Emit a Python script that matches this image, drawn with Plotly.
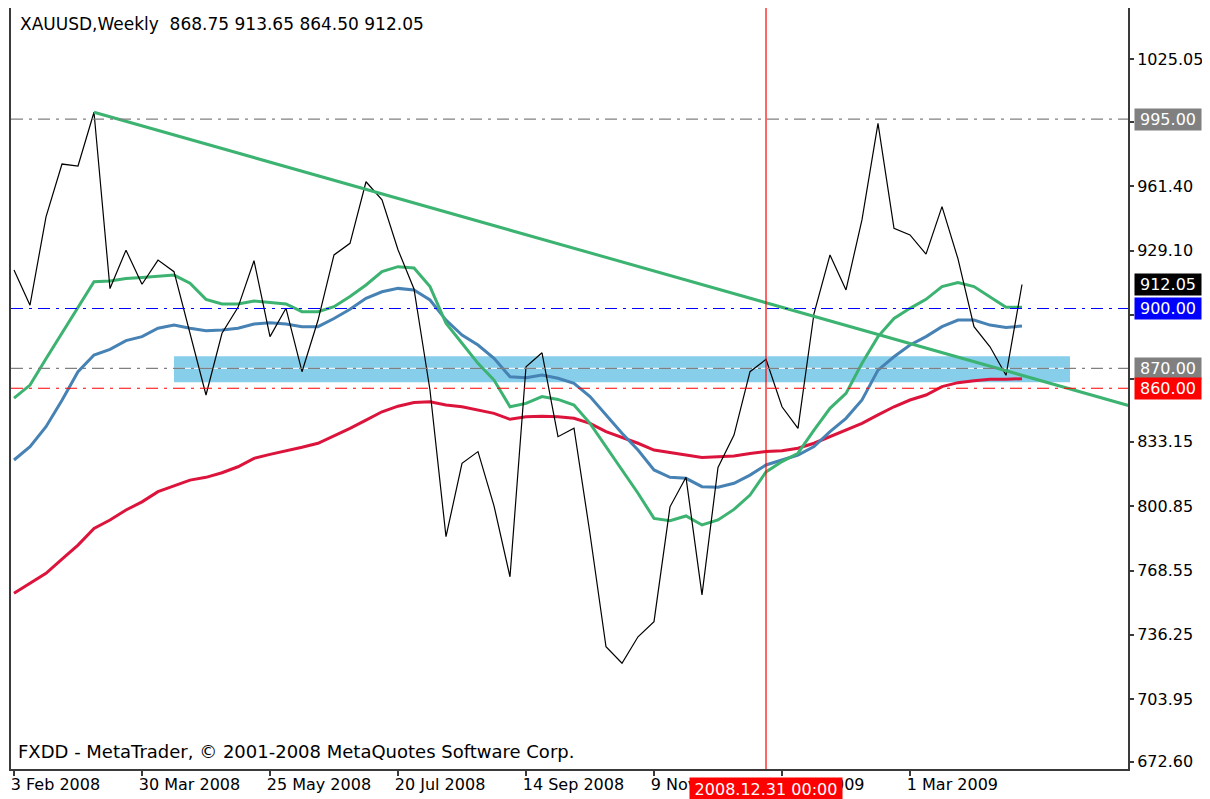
import pandas as pd
import plotly.graph_objects as go

# ---------------- data ----------------
start_week = "2008-02-03"          # first weekly bar shown

close = [919.3, 901.7, 946.0, 972.5, 971.5, 998.5, 910.0, 929.3, 912.2, 924.3,
         918.5, 887.6, 856.6, 887.6, 900.6, 924.0, 885.9, 900.1, 868.3, 894.1,
         926.9, 932.7, 963.6, 954.5, 929.5, 909.8, 859.0, 785.5, 822.3, 828.2,
         801.0, 765.4, 870.8, 877.8, 835.7, 840.0, 787.0, 730.3, 722.0, 735.3,
         742.9, 800.5, 815.3, 756.3, 820.3, 836.5, 868.3, 874.5, 850.7, 839.9,
         897.5, 926.9, 909.3, 944.6, 992.9, 940.2, 936.9, 927.3, 951.1, 924.9,
         890.9, 880.8, 866.5, 912.05]

ma_green = [855.0, 861.6, 874.8, 887.9, 900.9, 913.4, 913.8, 915.1, 915.6, 916.3,
            916.8, 912.7, 904.6, 902.3, 902.3, 903.8, 903.0, 902.3, 898.4, 898.4,
            900.9, 906.0, 911.8, 918.5, 921.0, 920.3, 911.0, 892.6, 882.6, 872.5,
            864.1, 850.7, 852.4, 855.8, 854.4, 851.6, 842.4, 830.7, 819.0, 807.3,
            794.7, 793.5, 795.9, 791.4, 793.9, 799.2, 806.4, 818.0, 823.2, 827.4,
            839.0, 849.9, 857.4, 872.5, 885.9, 895.0, 900.1, 904.6, 911.0, 913.0,
            911.0, 906.0, 900.6, 900.6]

ma_blue = [824.0, 830.7, 840.7, 854.0, 868.3, 876.7, 879.5, 883.9, 885.9, 890.1,
           891.7, 890.1, 888.9, 889.2, 890.1, 892.2, 892.9, 892.2, 890.9, 890.9,
           895.0, 899.6, 905.1, 908.4, 910.1, 909.3, 904.3, 894.2, 886.7, 881.7,
           875.0, 865.8, 865.3, 866.6, 865.0, 862.5, 855.8, 846.6, 837.4, 829.0,
           819.0, 815.3, 814.8, 810.6, 810.3, 812.3, 816.4, 821.5, 824.0, 826.5,
           830.7, 838.2, 844.9, 854.1, 869.1, 875.8, 881.7, 885.9, 890.9, 894.2,
           894.2, 891.7, 890.5, 891.2]

ma_red = [757.1, 762.1, 767.1, 774.2, 781.3, 789.7, 793.9, 798.9, 803.0, 808.1,
          810.9, 813.9, 815.3, 817.6, 820.6, 824.8, 826.8, 828.5, 830.4, 832.4,
          836.0, 839.9, 844.0, 848.2, 851.0, 852.8, 853.2, 851.6, 850.7, 849.0,
          847.4, 844.4, 845.7, 846.0, 845.7, 844.9, 842.4, 838.2, 835.4, 832.4,
          829.0, 827.6, 826.5, 825.3, 825.6, 826.0, 827.3, 828.2, 828.6, 829.9,
          832.4, 835.7, 839.0, 842.4, 846.6, 850.7, 854.1, 856.6, 860.8, 862.8,
          863.8, 864.5, 864.5, 864.8]

tick_weeks = ["2008-02-03", "2008-03-30", "2008-05-25", "2008-07-20",
              "2008-09-14", "2008-11-09", "2009-01-04", "2009-03-01"]
tick_labels = ["3 Feb 2008", "30 Mar 2008", "25 May 2008", "20 Jul 2008",
               "14 Sep 2008", "9 Nov 2008", "4 Jan 2009", "1 Mar 2009"]

# ticks hidden behind the price boxes keep their mark but no label
y_tick_vals = [1025.05, 993.70, 961.40, 929.10, 896.80, 864.50,
               833.15, 800.85, 768.55, 736.25, 703.95, 672.60]
y_tick_text = ["1025.05", "", "961.40", "929.10", "", "",
               "833.15", "800.85", "768.55", "736.25", "703.95", "672.60"]

trend_x = ["2008-03-09", "2009-04-19"]
trend_y = [998.5, 866.5]

hline_levels = [995.00, 900.00, 870.00, 860.00]
hline_colors = ["#808080", "#0000FF", "#808080", "#FF0000"]

zone_x = ["2008-04-13", "2009-05-10"]
zone_y = [863.0, 876.0]

vline_bar = "2008-12-28"
vline_label = "2008.12.31 00:00"

last_price = 912.05
header = "XAUUSD,Weekly  868.75 913.65 864.50 912.05"
footer = "FXDD - MetaTrader, © 2001-2008 MetaQuotes Software Corp."

# ---------------- layout constants ----------------
PAGE_OFF = 8                     # default body margin of the html page
W, H = 1210 - PAGE_OFF, 799 - PAGE_OFF
ML, MR, MT, MB = 11 - PAGE_OFF, 82, 0, 30
BAR_PX = 16.0
FIRST_BAR_OFFSET = 3.0          # px between left frame and first bar
FONT = "DejaVu Sans"
FRAME = "#3a3a3a"

dates = pd.date_range(start_week, periods=len(close), freq="7D")
plot_w = W - ML - MR
day_px = BAR_PX / 7.0
x_start = dates[0] - pd.Timedelta(days=FIRST_BAR_OFFSET / day_px)
x_end = x_start + pd.Timedelta(days=plot_w / day_px)

y_lo, y_hi = 668.95, 1050.79

fig = go.Figure()

fig.add_trace(go.Scatter(x=dates, y=ma_red, mode="lines",
                         line=dict(color="#DC143C", width=3), hoverinfo="skip"))
fig.add_trace(go.Scatter(x=dates, y=ma_blue, mode="lines",
                         line=dict(color="#4682B4", width=3), hoverinfo="skip"))
fig.add_trace(go.Scatter(x=dates, y=ma_green, mode="lines",
                         line=dict(color="#3CB371", width=3), hoverinfo="skip"))
fig.add_trace(go.Scatter(x=dates, y=close, mode="lines",
                         line=dict(color="#000000", width=1.2), hoverinfo="skip"))

# trend line (ray from two anchor points, extended to the right edge)
tx0, tx1 = pd.Timestamp(trend_x[0]), pd.Timestamp(trend_x[1])
slope = (trend_y[1] - trend_y[0]) / (tx1 - tx0).days
ext_days = (x_end - tx0).days + 14
tr_x = [tx0, tx1, tx0 + pd.Timedelta(days=ext_days)]
tr_y = [trend_y[0], trend_y[1], trend_y[0] + slope * ext_days]
fig.add_trace(go.Scatter(x=tr_x, y=tr_y, mode="lines",
                         line=dict(color="#3CB371", width=3), hoverinfo="skip"))

shapes = []
shapes.append(dict(type="rect", xref="x", yref="y", x0=zone_x[0], x1=zone_x[1],
                   y0=zone_y[0], y1=zone_y[1], fillcolor="#87CEEB",
                   line=dict(width=0), layer="below"))
shapes.append(dict(type="line", xref="x", yref="y", x0=zone_x[0], x1=zone_x[1],
                   y0=hline_levels[2], y1=hline_levels[2],
                   line=dict(color="#FFFFFF", width=1), layer="below"))
for lv, col in zip(hline_levels, hline_colors):
    shapes.append(dict(type="line", xref="paper", yref="y", x0=0, x1=1,
                       y0=lv, y1=lv,
                       line=dict(color=col, width=1.2, dash="12px,6px,3px,6px"),
                       layer="above"))
shapes.append(dict(type="line", xref="x", yref="paper", x0=vline_bar, x1=vline_bar,
                   y0=0, y1=1, line=dict(color="#FF0000", width=1.2), layer="above"))

annotations = []
annotations.append(dict(xref="paper", yref="paper", x=0, y=1, xanchor="left",
                        yanchor="top", xshift=7, yshift=-4, text=header,
                        showarrow=False, font=dict(family=FONT, size=17, color="#000")))
annotations.append(dict(xref="paper", yref="paper", x=0, y=0, xanchor="left",
                        yanchor="bottom", xshift=5, yshift=5, text=footer,
                        showarrow=False, font=dict(family=FONT, size=18, color="#000")))

box_levels = [hline_levels[0], last_price, hline_levels[1], hline_levels[2], hline_levels[3]]
box_colors = [hline_colors[0], "#000000", hline_colors[1], hline_colors[2], hline_colors[3]]
for lv, col in zip(box_levels, box_colors):
    annotations.append(dict(xref="paper", yref="y", x=1, y=lv, xanchor="left",
                            yanchor="middle", xshift=6, text=f"{lv:.2f}",
                            showarrow=False, bgcolor=col, width=64, height=19,
                            borderpad=1, align="center",
                            font=dict(family=FONT, size=16, color="#FFFFFF")))

annotations.append(dict(xref="x", yref="paper", x=vline_bar, y=0, xanchor="center",
                        yanchor="top", yshift=-8, text=vline_label, showarrow=False,
                        bgcolor="#FF0000", width=150, height=20, borderpad=1,
                        font=dict(family=FONT, size=16, color="#FFFFFF")))

fig.update_layout(
    width=W, height=H,
    margin=dict(l=ML, r=MR, t=MT, b=MB, pad=0, autoexpand=False),
    paper_bgcolor="#FFFFFF", plot_bgcolor="#FFFFFF",
    showlegend=False,
    shapes=shapes, annotations=annotations,
    xaxis=dict(type="date", range=[x_start, x_end], showgrid=False, zeroline=False,
               tickmode="array", tickvals=tick_weeks, ticktext=tick_labels,
               ticks="outside", ticklen=5, tickwidth=1.5, tickcolor=FRAME,
               ticklabelposition="outside right", ticklabelshift=-5,
               tickfont=dict(family=FONT, size=16, color="#000"),
               showline=True, linecolor=FRAME, linewidth=2, mirror=True),
    yaxis=dict(range=[y_lo, y_hi], side="right", showgrid=False, zeroline=False,
               tickmode="array", tickvals=y_tick_vals, ticktext=y_tick_text,
               ticks="outside", ticklen=4, tickwidth=1.5, tickcolor=FRAME,
               tickfont=dict(family=FONT, size=16, color="#000"),
               showline=True, linecolor=FRAME, linewidth=2, mirror=True),
)

fig.write_html("out.html")
